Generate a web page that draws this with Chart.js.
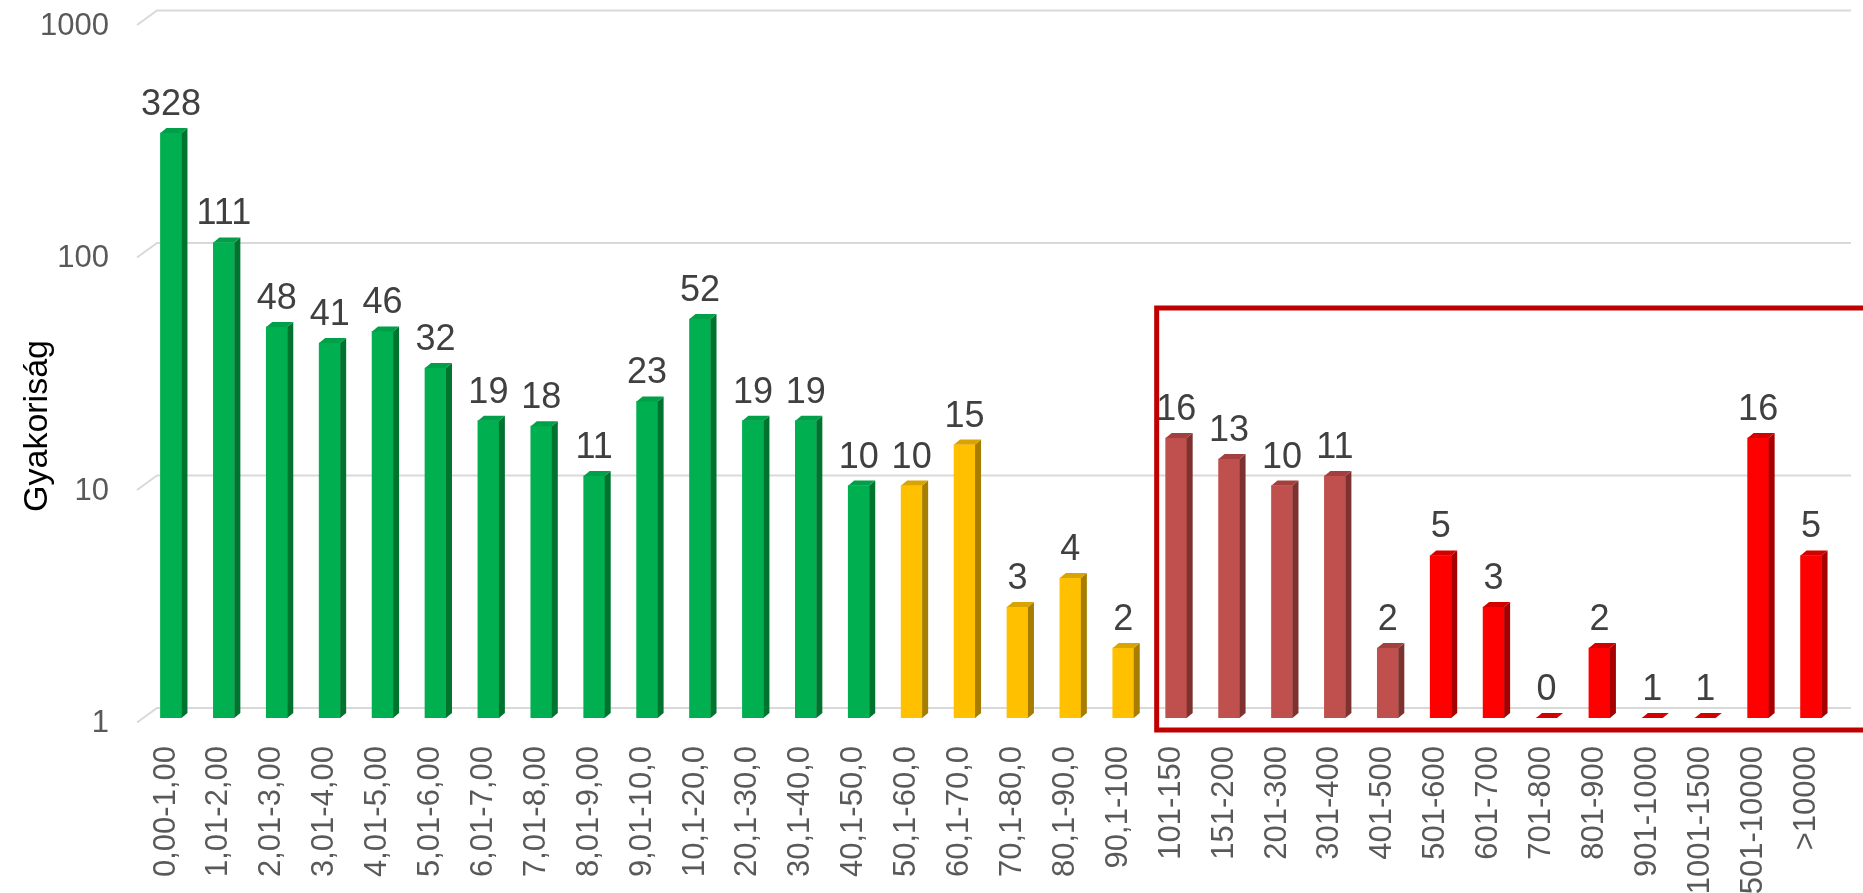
<!DOCTYPE html>
<html>
<head>
<meta charset="utf-8">
<script src="https://cdn.jsdelivr.net/npm/chart.js@4"></script>
<style>
    html, body { margin: 0; padding: 0; background: #fff; }
    #wrap { width: 1863px; height: 893px; position: relative; }
</style>
</head>
<body>
<div id="wrap"><canvas id="myChart"></canvas></div>
<script>
// data
var categories = [
    '0,00-1,00', '1,01-2,00', '2,01-3,00', '3,01-4,00', '4,01-5,00', '5,01-6,00',
    '6,01-7,00', '7,01-8,00', '8,01-9,00', '9,01-10,0', '10,1-20,0', '20,1-30,0',
    '30,1-40,0', '40,1-50,0', '50,1-60,0', '60,1-70,0', '70,1-80,0', '80,1-90,0',
    '90,1-100', '101-150', '151-200', '201-300', '301-400', '401-500', '501-600',
    '601-700', '701-800', '801-900', '901-1000', '1001-1500', '1501-10000', '>10000'
];
var counts = [
    328, 111, 48, 41, 46, 32, 19, 18, 11, 23, 52, 19, 19, 10,
    10, 15, 3, 4, 2,
    16, 13, 10, 11, 2,
    5, 3, 0, 2, 1, 1, 16, 5
];
var groups = [
    'green', 'green', 'green', 'green', 'green', 'green', 'green', 'green', 'green', 'green', 'green', 'green', 'green', 'green',
    'yellow', 'yellow', 'yellow', 'yellow', 'yellow',
    'brown', 'brown', 'brown', 'brown', 'brown',
    'red', 'red', 'red', 'red', 'red', 'red', 'red', 'red'
];
var yTicks = [1, 10, 100, 1000];
var axisTitle = 'Gyakoriság';

var faces = {
    green:  { front: '#00B050', side: '#00732F', top: '#00A048' },
    yellow: { front: '#FFC000', side: '#A67D00', top: '#D9A300' },
    brown:  { front: '#C0504D', side: '#7E3230', top: '#A3403D' },
    red:    { front: '#FF0000', side: '#A60000', top: '#D40000' }
};
var depthX = 6, depthY = 5;
var fontFamily = '"Liberation Sans", Arial, sans-serif';

var threeD = {
    id: 'threeD',
    beforeDatasetsDraw: function(chart) {
        var ctx = chart.ctx;
        var y = chart.scales.y;
        var area = chart.chartArea;
        ctx.save();
        // back wall gridlines with the little floor slant at left
        ctx.strokeStyle = '#D9D9D9';
        ctx.lineWidth = 2;
        yTicks.forEach(function(v) {
            var py = y.getPixelForValue(v);
            ctx.beginPath();
            ctx.moveTo(area.left - 7.5, py + 4.5);
            ctx.lineTo(area.left + 12.5, py - 10);
            ctx.lineTo(area.right + 13.5, py - 10);
            ctx.stroke();
        });
        ctx.fillStyle = '#595959';
        ctx.font = '31px ' + fontFamily;
        ctx.textAlign = 'right';
        ctx.textBaseline = 'middle';
        yTicks.forEach(function(v) {
            ctx.fillText(String(v), area.left - 35.5, y.getPixelForValue(v) + 5.5);
        });
        // axis title
        ctx.translate(38, 426);
        ctx.rotate(-Math.PI / 2);
        ctx.fillStyle = '#000';
        ctx.font = '34px ' + fontFamily;
        ctx.textAlign = 'center';
        ctx.textBaseline = 'middle';
        ctx.fillText(axisTitle, 0, 0);
        ctx.restore();
    },
    afterDatasetsDraw: function(chart) {
        var ctx = chart.ctx;
        var meta = chart.getDatasetMeta(0);
        ctx.save();
        meta.data.forEach(function(bar, i) {
            var p = bar.getProps(['x', 'y', 'base', 'width'], true);
            var f = faces[groups[i]];
            var l = p.x - p.width / 2, r = p.x + p.width / 2;
            // side
            ctx.fillStyle = f.side;
            ctx.beginPath();
            ctx.moveTo(r, p.y);
            ctx.lineTo(r + depthX, p.y - depthY);
            ctx.lineTo(r + depthX, p.base - depthY);
            ctx.lineTo(r, p.base);
            ctx.closePath();
            ctx.fill();
            // top
            ctx.fillStyle = f.top;
            ctx.beginPath();
            ctx.moveTo(l, p.y);
            ctx.lineTo(r, p.y);
            ctx.lineTo(r + depthX, p.y - depthY);
            ctx.lineTo(l + depthX, p.y - depthY);
            ctx.closePath();
            ctx.fill();
            // value label
            ctx.fillStyle = '#404040';
            ctx.font = '36px ' + fontFamily;
            ctx.textAlign = 'center';
            ctx.textBaseline = 'alphabetic';
            ctx.fillText(String(counts[i]), p.x, p.y - 18);
        });
        ctx.restore();
    },
    afterDraw: function(chart) {
        var ctx = chart.ctx;
        var x = chart.scales.x;
        var y = chart.scales.y;
        ctx.save();
        // category labels, rotated
        ctx.fillStyle = '#595959';
        ctx.font = '31px ' + fontFamily;
        ctx.textAlign = 'right';
        ctx.textBaseline = 'middle';
        categories.forEach(function(c, i) {
            ctx.save();
            ctx.translate(x.getPixelForValue(i) - 5, 746);
            ctx.rotate(-Math.PI / 2);
            ctx.fillText(c, 0, 0);
            ctx.restore();
        });
        // highlight box around the high ranges
        var boxLeft = x.getPixelForValue(19) - 19.5;
        var boxTop = y.getPixelForValue(58);
        var boxBottom = y.getPixelForValue(1) + 12;
        ctx.strokeStyle = '#C00000';
        ctx.lineWidth = 5;
        ctx.strokeRect(boxLeft, boxTop, chart.width + 20 - boxLeft, boxBottom - boxTop);
        ctx.restore();
    }
};

var ctx = document.getElementById('myChart').getContext('2d');
var myChart = new Chart(ctx, {
    type: 'bar',
    data: {
        labels: categories,
        datasets: [{
            label: axisTitle,
            data: counts,
            backgroundColor: groups.map(function(g) { return faces[g].front; }),
            borderWidth: 0,
            barThickness: 21
        }]
    },
    options: {
        responsive: true,
        maintainAspectRatio: false,
        animation: false,
        layout: {
            padding: { left: 144.5, right: 25.5, top: 20.5, bottom: 175 }
        },
        plugins: {
            legend: { display: false },
            tooltip: { enabled: false }
        },
        scales: {
            x: { display: false },
            y: {
                display: false,
                type: 'logarithmic',
                min: 1,
                max: 1000
            }
        }
    },
    plugins: [threeD]
});
</script>
</body>
</html>
